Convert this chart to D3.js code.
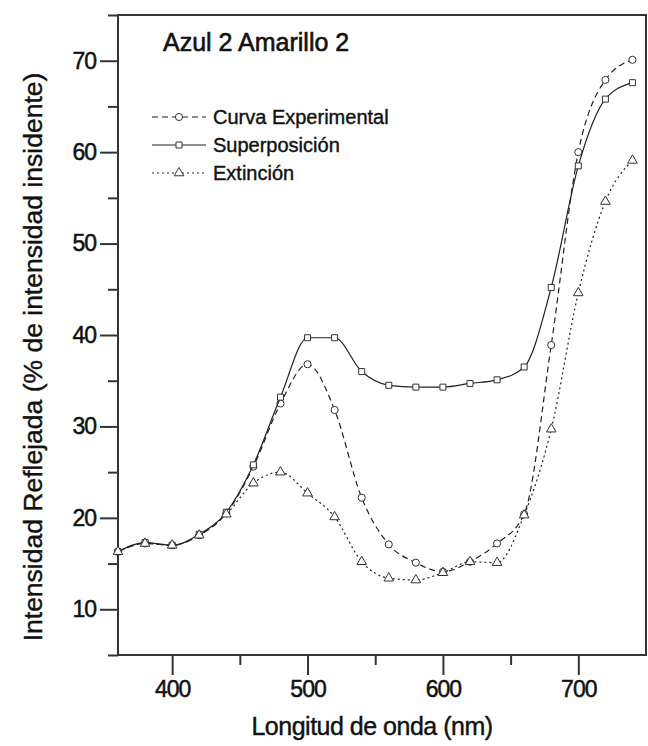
<!DOCTYPE html>
<html>
<head>
<meta charset="utf-8">
<script src="https://cdn.jsdelivr.net/npm/d3@7"></script>
<style>
	body { margin: 0; background: #fff; }
	text { font-family: "Liberation Sans", Arial, sans-serif; fill: #111; }
</style>
</head>
<body>
<script>
//wavelengths (nm)
var wavelengths = [360, 380, 400, 420, 440, 460, 480, 500, 520, 540, 560, 580, 600, 620, 640, 660, 680, 700, 720, 740];

//reflected intensity, one array per curve
var experimental = [16.3, 17.2, 17.0, 18.1, 20.5, 25.6, 32.5, 36.8, 31.8, 22.2, 17.1, 15.1, 14.1, 15.2, 17.2, 20.4, 38.9, 60.0, 67.9, 70.1];
var superposicion = [16.3, 17.3, 17.0, 18.2, 20.6, 25.8, 33.2, 39.7, 39.7, 36.0, 34.5, 34.3, 34.3, 34.7, 35.1, 36.5, 45.2, 58.5, 65.8, 67.6];
var extincion = [16.3, 17.2, 17.0, 18.1, 20.4, 23.8, 25.0, 22.7, 20.1, 15.2, 13.4, 13.2, 14.0, 15.2, 15.1, 20.3, 29.7, 44.6, 54.6, 59.1];

var seriesNames = ["Curva Experimental", "Superposición", "Extinción"];

//tick values
var xTicks = [400, 500, 600, 700];
var xMinor = [450, 550, 650];
var yTicks = [10, 20, 30, 40, 50, 60, 70];
var yMinor = [5, 15, 25, 35, 45, 55, 65, 75];

var width = 648;
var height = 746;

//plot area edges (note: "top" is taken by window.top)
var plotLeft = 118, plotRight = 646, plotTop = 15, plotBottom = 655;

var xScale = d3.scaleLinear()
				.domain([360, 750])
				.range([plotLeft, plotRight]);

var yScale = d3.scaleLinear()
				.domain([5, 75])
				.range([plotBottom, plotTop]);

var svg = d3.select("body")
			.append("svg")
			.attr("width", width)
			.attr("height", height);

//minor ticks first, major ticks drawn over them
svg.append("g")
	.attr("transform", "translate(0," + plotBottom + ")")
	.call(d3.axisBottom(xScale).tickValues(xMinor).tickSize(10).tickFormat(""));

svg.append("g")
	.attr("transform", "translate(" + plotLeft + ",0)")
	.call(d3.axisLeft(yScale).tickValues(yMinor).tickSize(10).tickFormat(""));

svg.append("g")
	.attr("transform", "translate(0," + plotBottom + ")")
	.call(d3.axisBottom(xScale).tickValues(xTicks).tickSize(20).tickPadding(6));

svg.append("g")
	.attr("transform", "translate(" + plotLeft + ",0)")
	.call(d3.axisLeft(yScale).tickValues(yTicks).tickSize(18).tickPadding(4));

svg.selectAll(".domain").remove();
svg.selectAll(".tick line")
	.attr("stroke", "#333")
	.attr("stroke-width", 2);

svg.selectAll(".tick text")
	.style("font-size", "23px")
	.style("letter-spacing", "-1px")
	.style("stroke", "#111")
	.style("stroke-width", "0.5px")
	.attr("fill", "#111");

//frame
svg.append("rect")
	.attr("x", plotLeft)
	.attr("y", plotTop)
	.attr("width", plotRight - plotLeft)
	.attr("height", plotBottom - plotTop)
	.attr("fill", "none")
	.attr("stroke", "#333")
	.attr("stroke-width", 2);

//axis titles
svg.append("text")
	.attr("x", 372)
	.attr("y", 735)
	.attr("text-anchor", "middle")
	.style("font-size", "25px")
	.style("letter-spacing", "-0.5px")
	.style("stroke", "#111")
	.style("stroke-width", "0.4px")
	.text("Longitud de onda (nm)");

svg.append("text")
	.attr("transform", "translate(42,357) rotate(-90)")
	.attr("text-anchor", "middle")
	.style("font-size", "26.5px")
	.style("stroke", "#111")
	.style("stroke-width", "0.4px")
	.text("Intensidad Reflejada (% de intensidad insidente)");

//title inside plot
svg.append("text")
	.attr("x", 163)
	.attr("y", 51)
	.style("font-size", "25px")
	.style("stroke", "#111")
	.style("stroke-width", "0.6px")
	.text("Azul 2 Amarillo 2");

//line styles and markers for each curve
var styles = [
	{ values: experimental, dash: "6,4", symbol: d3.symbolCircle, size: 40 },
	{ values: superposicion, dash: null, symbol: d3.symbolSquare, size: 36 },
	{ values: extincion, dash: "2,3", symbol: d3.symbolTriangle, size: 40 }
];

var line = d3.line()
			.x(function(d) { return xScale(d[0]); })
			.y(function(d) { return yScale(d[1]); })
			.curve(d3.curveMonotoneX);

styles.forEach(function(s, i)
{
	var pts = wavelengths.map(function(w, k) { return [w, s.values[k]]; });

	svg.append("path")
		.datum(pts)
		.attr("d", line)
		.attr("fill", "none")
		.attr("stroke", "#222")
		.attr("stroke-width", 1.2)
		.attr("stroke-dasharray", s.dash);

	svg.append("g")
		.selectAll("path")
		.data(pts)
		.enter()
			.append("path")
			.attr("d", d3.symbol().type(s.symbol).size(s.size))
			.attr("transform", function(d) { return "translate(" + xScale(d[0]) + "," + yScale(d[1]) + ")"; })
			.attr("fill", "#fff")
			.attr("stroke", "#333")
			.attr("stroke-width", 1);
});

//legend
var legend = svg.append("g");
var legendY = [117, 145, 173];

styles.forEach(function(s, i)
{
	legend.append("line")
		.attr("x1", 152)
		.attr("x2", 206)
		.attr("y1", legendY[i])
		.attr("y2", legendY[i])
		.attr("stroke", "#222")
		.attr("stroke-width", 1.2)
		.attr("stroke-dasharray", s.dash);

	legend.append("path")
		.attr("d", d3.symbol().type(s.symbol).size(s.size))
		.attr("transform", "translate(179," + legendY[i] + ")")
		.attr("fill", "#fff")
		.attr("stroke", "#333");

	legend.append("text")
		.attr("x", 213)
		.attr("y", legendY[i] + 7)
		.style("font-size", "20px")
		.style("stroke", "#111")
		.style("stroke-width", "0.4px")
		.text(seriesNames[i]);
});
</script>
</body>
</html>
